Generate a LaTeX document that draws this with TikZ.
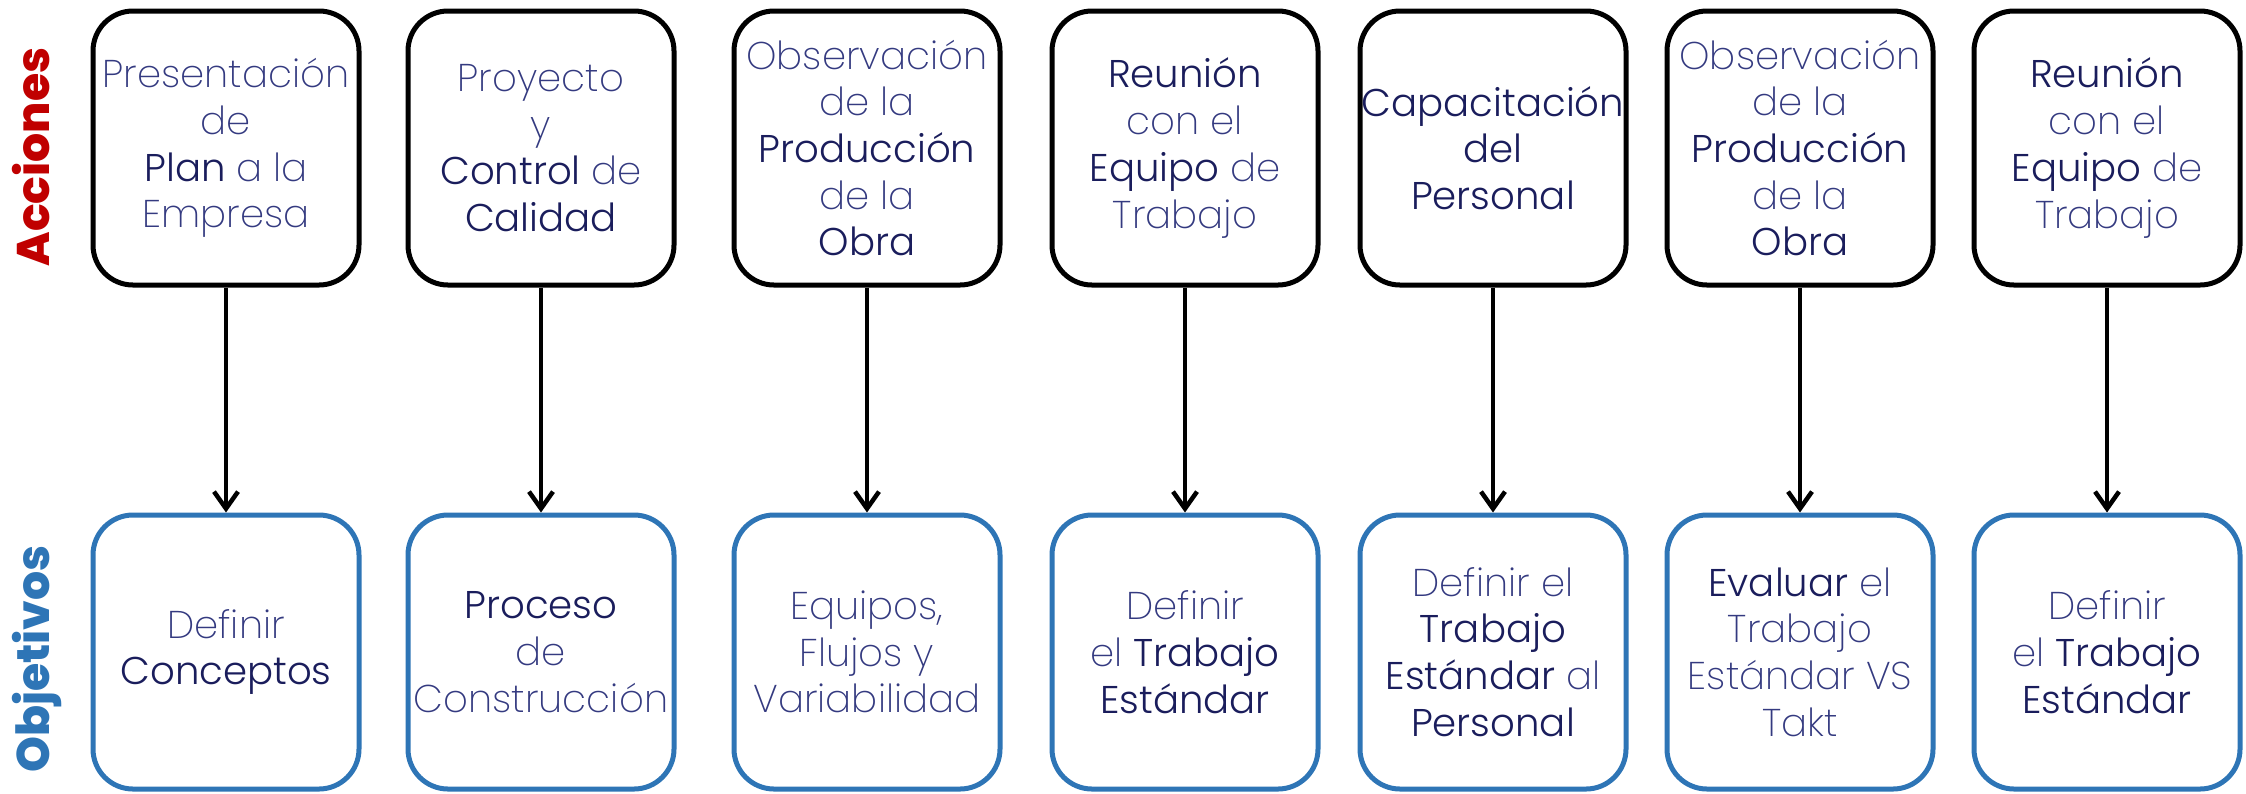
\documentclass[tikz,border=0pt]{standalone}
\usepackage{fontspec}
\setmainfont{Poppins ExtraLight}
\newfontfamily\regf{Poppins Light}
\newfontfamily\headf{Poppins ExtraBold}
\usetikzlibrary{arrows.meta}
\definecolor{lt}{HTML}{343A80}
\definecolor{dk}{HTML}{1A1D5C}
\definecolor{accred}{HTML}{C00000}
\definecolor{objblue}{HTML}{2E75B6}
\newcommand{\dkw}[1]{{\regf\color{dk}#1}}
\begin{document}
\begin{tikzpicture}[x=1cm,y=1cm,
  box/.style={rounded corners=0.4cm, minimum width=2.66cm, minimum height=2.74cm,
    line width=0.05cm, align=center, font=\fontsize{11}{13.3}\selectfont, text=lt, inner sep=0pt},
  topbox/.style={box, draw=black},
  botbox/.style={box, draw=objblue},
  conn/.style={line width=0.045cm, -{Straight Barb[length=0.17cm,width=0.24cm,line width=0.045cm]}},
  head/.style={rotate=90, anchor=base, font=\headf\fontsize{13}{13}\selectfont}
]
\useasboundingbox (0,0) rectangle (22.46,-7.93);

\node[head, text=accred] (hacc) at (0.50,-1.57) {Acciones};
\node[head, text=objblue] (hobj) at (0.50,-6.59) {Objetivos};

\node[topbox] (t1) at (2.26,-1.48) {Presentación\\de\\\dkw{Plan} a la\\Empresa};
\node[topbox] (t2) at (5.41,-1.48) {Proyecto\\y\\\dkw{Control} de\\\dkw{Calidad}};
\node[topbox] (t3) at (8.67,-1.48) {Observación\\de la\\\dkw{Producción}\\de la\\\dkw{Obra}};
\node[topbox] (t4) at (11.85,-1.48) {\dkw{Reunión}\\con el\\\dkw{Equipo} de\\Trabajo};
\node[topbox] (t5) at (14.93,-1.48) {\dkw{Capacitación}\\\dkw{del}\\\dkw{Personal}};
\node[topbox] (t6) at (18.00,-1.48) {Observación\\de la\\\dkw{Producción}\\de la\\\dkw{Obra}};
\node[topbox] (t7) at (21.07,-1.48) {\dkw{Reunión}\\con el\\\dkw{Equipo} de\\Trabajo};

\node[botbox] (b1) at (2.26,-6.52) {Definir\\\dkw{Conceptos}};
\node[botbox] (b2) at (5.41,-6.52) {\dkw{Proceso}\\de\\Construcción};
\node[botbox] (b3) at (8.67,-6.52) {Equipos,\\Flujos y\\Variabilidad};
\node[botbox] (b4) at (11.85,-6.52) {Definir\\el \dkw{Trabajo}\\\dkw{Estándar}};
\node[botbox] (b5) at (14.93,-6.52) {Definir el\\\dkw{Trabajo}\\\dkw{Estándar} al\\\dkw{Personal}};
\node[botbox] (b6) at (18.00,-6.52) {\dkw{Evaluar} el\\Trabajo\\Estándar VS\\Takt};
\node[botbox] (b7) at (21.07,-6.52) {Definir\\el \dkw{Trabajo}\\\dkw{Estándar}};

\foreach \i in {1,...,7} {
  \draw[conn] (t\i.south) -- (b\i.north);
}
\end{tikzpicture}
\end{document}
